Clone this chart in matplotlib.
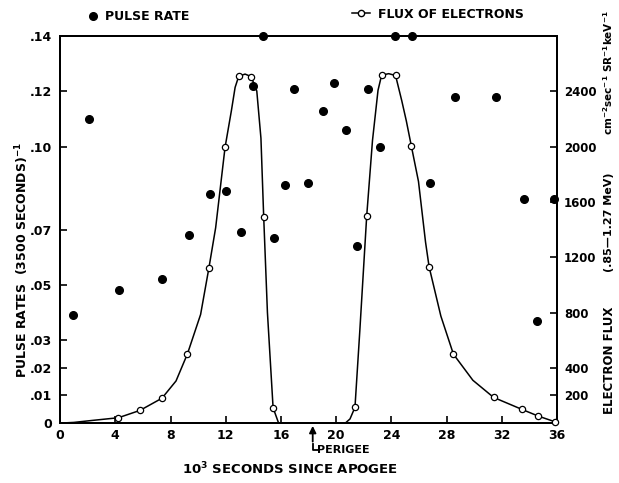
import matplotlib.pyplot as plt
from matplotlib.lines import Line2D

plt.rcParams['font.family'] = ['DejaVu Sans']
plt.rcParams['font.weight'] = 'bold'
plt.rcParams['mathtext.default'] = 'bf'

# pulse rate, (3500 s)^-1
pulse_t = [0.95, 2.08, 4.25, 7.41, 9.33, 10.87, 12.0, 13.08, 13.97, 14.7,
           15.46, 16.31, 16.91, 17.98, 19.03, 19.87, 20.74, 21.52, 22.32, 23.16,
           24.24, 25.47, 26.78, 28.6, 31.59, 33.6, 34.58, 35.79]
pulse_rate = [0.039, 0.110, 0.048, 0.052, 0.068, 0.083, 0.084, 0.069, 0.122, 0.140,
              0.067, 0.086, 0.121, 0.087, 0.113, 0.123, 0.106, 0.064, 0.121, 0.100,
              0.140, 0.140, 0.087, 0.118, 0.118, 0.081, 0.037, 0.081]

# electron flux measurements (open circles)
flux_t = [4.23, 5.79, 7.38, 9.23, 10.78, 11.95, 12.94, 13.84, 14.75, 15.43,
          21.36, 22.21, 23.29, 24.3, 25.45, 26.73, 28.49, 31.4, 33.46, 34.63, 35.83]
flux = [39, 92, 180, 502, 1122, 1995, 2510, 2508, 1492, 111,
        114, 1499, 2518, 2516, 2002, 1131, 499, 186, 99, 51, 10]

# hand drawn curve through the flux points
curve1_t = [0, 1.0, 2.3, 4.23, 5.79, 7.38, 8.4, 9.23, 10.18, 10.78, 11.27, 11.95,
            12.41, 12.68, 12.94, 13.4, 13.84, 14.25, 14.55, 14.75, 15.02, 15.43, 15.83]
curve1 = [0, 5, 19, 39, 92, 180, 305, 502, 786, 1122, 1414, 1995,
          2261, 2430, 2510, 2526, 2508, 2403, 2062, 1492, 801, 111, 0]
curve2_t = [20.66, 21.0, 21.36, 21.71, 22.21, 22.63, 23.03, 23.29, 23.8, 24.3,
            24.75, 25.08, 25.45, 25.96, 26.47, 26.73, 27.58, 28.49, 29.9, 31.4,
            33.46, 34.63, 35.83, 36.0]
curve2 = [0, 30, 114, 666, 1499, 2046, 2409, 2518, 2529, 2516,
          2333, 2187, 2002, 1749, 1311, 1131, 775, 499, 310, 186,
          99, 51, 10, 5]

left_ticks = [0, 0.01, 0.02, 0.03, 0.05, 0.07, 0.10, 0.12, 0.14]
left_labels = ['0', '.01', '.02', '.03', '.05', '.07', '.10', '.12', '.14']
right_ticks = [200, 400, 800, 1200, 1600, 2000, 2400]
x_ticks = [0, 4, 8, 12, 16, 20, 24, 28, 32, 36]
perigee_t = 18.3

fig = plt.figure(figsize=(6.19, 4.83), dpi=100)
ax = fig.add_axes([0.097, 0.124, 0.803, 0.801])
ax2 = ax.twinx()

ax.plot(pulse_t, pulse_rate, 'o', color='black', ms=5.5, clip_on=False, zorder=5)

ax2.plot(curve1_t, curve1, '-', color='black', lw=1.1)
ax2.plot(curve2_t, curve2, '-', color='black', lw=1.1)
ax2.plot(flux_t, flux, 'o', mfc='white', mec='black', mew=0.9, ms=4.5, clip_on=False, zorder=6)

ax.set_xlim(0, 36)
ax.set_ylim(0, 0.14)
ax2.set_ylim(0, 2800)

ax.set_xticks(x_ticks)
ax.set_yticks(left_ticks)
ax.set_yticklabels(left_labels)
ax2.set_yticks(right_ticks)

ax.tick_params(axis='both', direction='in', length=5, width=1.2, labelsize=9, pad=6)
ax.tick_params(axis='x', pad=4)
ax2.tick_params(axis='y', direction='in', length=5, width=1.2, labelsize=8.5, pad=5)
for a in (ax, ax2):
    for s in a.spines.values():
        s.set_linewidth(1.4)

fig.text(0.469, 0.03, '10$^{3}$ SECONDS SINCE APOGEE', ha='center', va='center', fontsize=9.5)
fig.text(0.036, 0.462, 'PULSE RATES  (3500 SECONDS)$^{-1}$', rotation=90,
         ha='center', va='center', fontsize=9)
fig.text(0.984, 0.255, 'ELECTRON FLUX', rotation=90, ha='center', va='center', fontsize=8.5)
fig.text(0.984, 0.54, '(.85\u20141.27 MeV)', rotation=90, ha='center', va='center', fontsize=8)
fig.text(0.982, 0.85, 'cm$^{-2}$sec$^{-1}$ SR$^{-1}$keV$^{-1}$', rotation=90,
         ha='center', va='center', fontsize=7.5)

# perigee marker below the axis
ax.annotate('', xy=(perigee_t, 0), xycoords=('data', 'axes fraction'),
            xytext=(perigee_t, -0.055), textcoords=('data', 'axes fraction'),
            arrowprops=dict(arrowstyle='-|>', color='black', lw=1.3, mutation_scale=10))
ax.plot([perigee_t, perigee_t, perigee_t + 0.35], [-0.055, -0.069, -0.069], color='black',
        lw=1.3, transform=ax.get_xaxis_transform(), clip_on=False)
ax.text(perigee_t + 0.3, -0.069, 'PERIGEE', transform=ax.get_xaxis_transform(),
        ha='left', va='center', fontsize=8)

h1 = Line2D([], [], marker='o', ls='none', color='black', ms=5.5)
h2 = Line2D([], [], marker='o', ls='-', color='black', mfc='white', ms=4.5, lw=1.1)
fig.legend([h1], ['PULSE RATE'], loc='center left', bbox_to_anchor=(0.143, 0.965),
           frameon=False, fontsize=9, handlelength=0.7, handletextpad=0.6,
           borderpad=0, borderaxespad=0)
fig.legend([h2], ['FLUX OF ELECTRONS'], loc='center left', bbox_to_anchor=(0.568, 0.971),
           frameon=False, fontsize=9, handlelength=1.5, handletextpad=0.6,
           borderpad=0, borderaxespad=0)

fig.savefig('out.png', dpi=100)
